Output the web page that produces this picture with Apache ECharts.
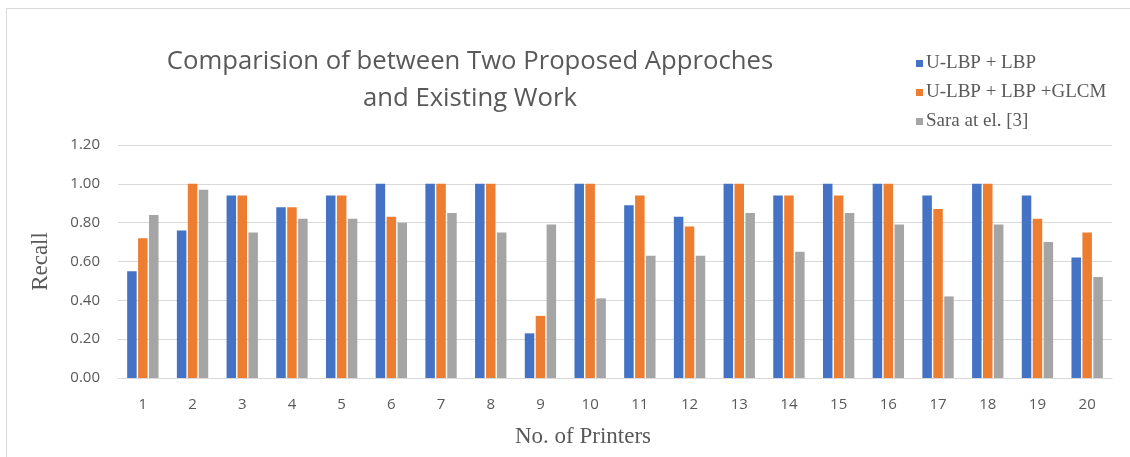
<!DOCTYPE html>
<html>
<head>
<meta charset="utf-8">
<script src="https://cdn.jsdelivr.net/npm/echarts@6/dist/echarts.min.js"></script>
<style>
  html, body { margin: 0; padding: 0; background: #fff; }
  #chart { width: 1130px; height: 457px; }
</style>
</head>
<body>
<div id="chart"></div>
<script>
// Printer numbers along the x axis
const printers = ['1','2','3','4','5','6','7','8','9','10','11','12','13','14','15','16','17','18','19','20'];

// Recall per printer for each method
const uLbpLbp     = [0.55, 0.76, 0.94, 0.88, 0.94, 1.00, 1.00, 1.00, 0.23, 1.00, 0.89, 0.83, 1.00, 0.94, 1.00, 1.00, 0.94, 1.00, 0.94, 0.62];
const uLbpLbpGlcm = [0.72, 1.00, 0.94, 0.88, 0.94, 0.83, 1.00, 1.00, 0.32, 1.00, 0.94, 0.78, 1.00, 0.94, 0.94, 1.00, 0.87, 1.00, 0.82, 0.75];
const saraEtAl    = [0.84, 0.97, 0.75, 0.82, 0.82, 0.80, 0.85, 0.75, 0.79, 0.41, 0.63, 0.63, 0.85, 0.65, 0.85, 0.79, 0.42, 0.79, 0.70, 0.52];

const seriesNames = ['U-LBP + LBP', 'U-LBP + LBP +GLCM', 'Sara at el. [3]'];
const yTicks = [0, 0.2, 0.4, 0.6, 0.8, 1.0, 1.2];

const chart = echarts.init(document.getElementById('chart'));
const textGray = '#595959';
const lineGray = '#d9d9d9';

chart.setOption({
  animation: false,
  color: ['#4472C4', '#ED7D31', '#A5A5A5'],
  title: {
    text: 'Comparision of between Two Proposed Approches\nand Existing Work',
    left: 465,
    textAlign: 'center',
    top: 38,
    textStyle: {
      fontFamily: 'Open Sans',
      fontWeight: 'normal',
      fontSize: 25.7,
      color: textGray,
      lineHeight: 37
    }
  },
  legend: {
    orient: 'vertical',
    left: 911,
    top: 49,
    itemWidth: 7,
    itemHeight: 7,
    itemGap: 10,
    icon: 'rect',
    textStyle: {
      fontFamily: 'Liberation Serif',
      fontSize: 19,
      color: textGray,
      padding: [0, 0, 0, -2]
    },
    data: seriesNames
  },
  grid: {
    left: 118,
    right: 18,
    top: 145,
    bottom: 79
  },
  xAxis: {
    type: 'category',
    data: printers,
    name: 'No. of Printers',
    nameLocation: 'middle',
    nameGap: 47,
    nameTextStyle: {
      fontFamily: 'Liberation Serif',
      fontSize: 23,
      color: textGray,
      padding: [0, 64, 0, 0]
    },
    axisLine: { lineStyle: { color: lineGray, width: 1 } },
    axisTick: { show: false },
    axisLabel: {
      margin: 19,
      fontFamily: 'Open Sans',
      fontSize: 15,
      color: textGray
    }
  },
  yAxis: {
    type: 'value',
    min: 0,
    max: 1.2,
    interval: 0.2,
    name: 'Recall',
    nameLocation: 'middle',
    nameGap: 66,
    nameTextStyle: {
      fontFamily: 'Liberation Serif',
      fontSize: 23,
      color: textGray
    },
    axisLine: { show: false },
    axisTick: { show: false },
    splitLine: { lineStyle: { color: lineGray, width: 1 } },
    axisLabel: {
      margin: 18,
      fontFamily: 'Open Sans',
      fontSize: 15,
      color: textGray,
      formatter: v => {
        const t = yTicks.find(k => Math.abs(k - v) < 1e-9);
        return (t !== undefined ? t : v).toFixed(2);
      }
    }
  },
  series: [
    { name: seriesNames[0], type: 'bar', data: uLbpLbp, barWidth: 9.5, barGap: '15%' },
    { name: seriesNames[1], type: 'bar', data: uLbpLbpGlcm, barWidth: 9.5, barGap: '15%' },
    { name: seriesNames[2], type: 'bar', data: saraEtAl, barWidth: 9.5, barGap: '15%' }
  ],
  graphic: [
    {
      type: 'polyline',
      shape: { points: [[6.5, 457], [6.5, 8.5], [1130, 8.5]] },
      style: { stroke: lineGray, lineWidth: 1, fill: null },
      silent: true
    }
  ]
});
</script>
</body>
</html>
